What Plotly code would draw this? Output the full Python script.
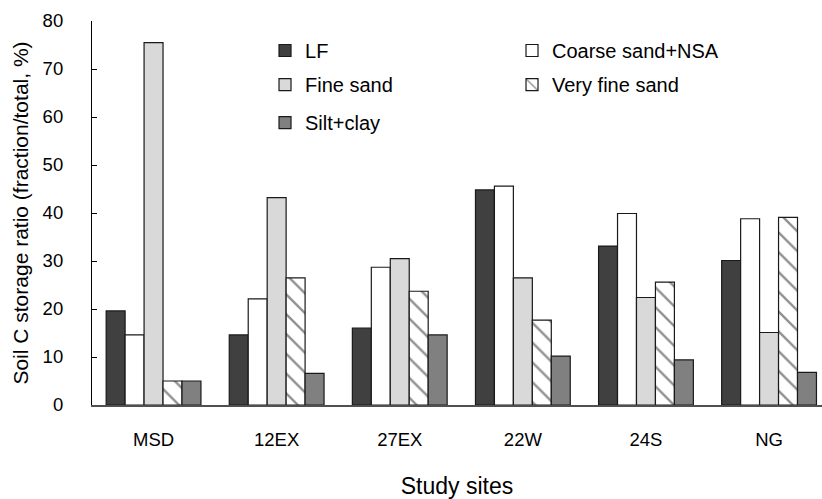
import plotly.graph_objects as go

sites = ["MSD", "12EX", "27EX", "22W", "24S", "NG"]
series_names = ["LF", "Coarse sand+NSA", "Fine sand", "Very fine sand", "Silt+clay"]
lf = [19.6, 14.6, 16.0, 44.8, 33.1, 30.1]
coarse = [14.6, 22.1, 28.7, 45.6, 39.9, 38.8]
fine = [75.5, 43.2, 30.5, 26.5, 22.4, 15.1]
vfine = [5.0, 26.5, 23.7, 17.7, 25.6, 39.1]
silt = [5.0, 6.6, 14.6, 10.2, 9.4, 6.8]
y_ticks = [0, 10, 20, 30, 40, 50, 60, 70, 80]

values = [lf, coarse, fine, vfine, silt]
fills = ["#404040", "#ffffff", "#d9d9d9", "#ffffff", "#808080"]
patterns = ["", "", "", "\\", ""]
legend_rows = ["legend", "legend", "legend2", "legend2", "legend3"]

FONT = "Liberation Sans, Arial, sans-serif"

fig = go.Figure()
for name, vals, col, pat, lg in zip(series_names, values, fills, patterns, legend_rows):
    marker = dict(color=col, line=dict(color="#1a1a1a", width=1.2))
    if pat:
        marker["pattern"] = dict(shape=pat, size=14, solidity=0.17,
                                 fgcolor="#222222", bgcolor="#ffffff", fillmode="overlay")
    fig.add_trace(go.Bar(name=name, x=sites, y=vals, marker=marker, legend=lg))

legend_common = dict(orientation="h", x=0.237, xanchor="left", yanchor="top",
                     entrywidth=202, entrywidthmode="pixels",
                     font=dict(size=20, family=FONT), bgcolor="rgba(0,0,0,0)",
                     itemwidth=30, traceorder="normal")

fig.update_layout(
    width=822, height=499,
    margin=dict(l=92, r=0, t=21, b=94),
    paper_bgcolor="white", plot_bgcolor="white",
    barmode="group", bargap=0.23, bargroupgap=0,
    font=dict(family=FONT, color="#000000", size=18),
    legend=dict(legend_common, y=0.974),
    legend2=dict(legend_common, y=0.885),
    legend3=dict(legend_common, y=0.786),
    xaxis=dict(range=[-0.5, 5.43], showline=True, linecolor="#505050", linewidth=2,
               ticks="", showgrid=False, zeroline=False,
               tickfont=dict(size=18.5, family=FONT), ticklabelstandoff=17,
               title=dict(text="Study sites", font=dict(size=23, family=FONT), standoff=30)),
    yaxis=dict(range=[0, 80], tickvals=y_ticks, showline=True, linecolor="#000000", linewidth=1.2,
               ticks="inside", ticklen=5, tickcolor="#000000", tickwidth=1.2,
               showgrid=False, zeroline=False,
               tickfont=dict(size=18.5, family=FONT), ticklabelstandoff=24,
               title=dict(text="Soil C storage ratio (fraction/total, %)",
                          font=dict(size=21, family=FONT), standoff=8)),
)

fig.write_html("out.html")
